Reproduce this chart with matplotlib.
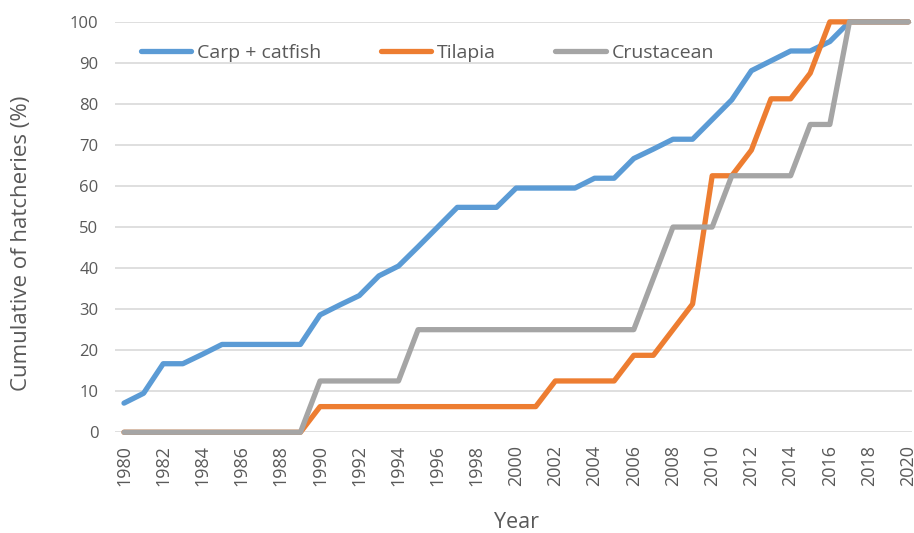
import matplotlib
matplotlib.use('Agg')
from matplotlib import pyplot as plt

plt.rcParams['font.family'] = ['Open Sans', 'DejaVu Sans']

years = list(range(1980, 2021))

# Carp + catfish (cumulative %)
carp = [7.1, 9.5, 16.7, 16.7, 19.0, 21.4, 21.4, 21.4, 21.4, 21.4,
        28.6, 31.0, 33.3, 38.1, 40.5, 45.2, 50.0, 54.8, 54.8, 54.8,
        59.5, 59.5, 59.5, 59.5, 61.9, 61.9, 66.7, 69.0, 71.4, 71.4,
        76.2, 81.0, 88.1, 90.5, 92.9, 92.9, 95.2, 100, 100, 100, 100]

# Tilapia
tilapia = [0, 0, 0, 0, 0, 0, 0, 0, 0, 0,
           6.25, 6.25, 6.25, 6.25, 6.25, 6.25, 6.25, 6.25, 6.25, 6.25,
           6.25, 6.25, 12.5, 12.5, 12.5, 12.5, 18.75, 18.75, 25.0, 31.25,
           62.5, 62.5, 68.75, 81.25, 81.25, 87.5, 100, 100, 100, 100, 100]

# Crustacean
crust = [0, 0, 0, 0, 0, 0, 0, 0, 0, 0,
         12.5, 12.5, 12.5, 12.5, 12.5, 25, 25, 25, 25, 25,
         25, 25, 25, 25, 25, 25, 25, 37.5, 50, 50,
         50, 62.5, 62.5, 62.5, 62.5, 75, 75, 100, 100, 100, 100]

fig = plt.figure(figsize=(9.14, 5.33), dpi=100)
ax = fig.add_axes([0.126, 0.189, 0.872, 0.770])

txt = '#595959'
ax.plot(years, carp, color='#5B9BD5', lw=3.8, label='Carp + catfish', clip_on=False, solid_capstyle='round')
ax.plot(years, tilapia, color='#ED7D31', lw=3.8, label='Tilapia', clip_on=False, solid_capstyle='round')
ax.plot(years, crust, color='#A5A5A5', lw=3.8, label='Crustacean', clip_on=False, solid_capstyle='round')

ax.set_xlim(1979.55, 2020.2)
ax.set_ylim(0, 100)
ax.set_yticks(range(0, 101, 10))
ax.set_xticks(years[::2])
ax.set_xticklabels([str(y) for y in years[::2]], rotation=90, fontsize=13, color=txt)
ax.tick_params(axis='y', labelsize=12, colors=txt, length=0, pad=12)
ax.tick_params(axis='x', length=0, pad=9)
ax.grid(axis='y', color='#D9D9D9', lw=1.2)
ax.set_axisbelow(True)
for s in ax.spines.values():
    s.set_visible(False)

ax.set_ylabel('Cumulative of hatcheries (%)', fontsize=16, color=txt)
ax.yaxis.set_label_coords(-0.104, 0.46)
ax.set_xlabel('Year', fontsize=15.5, color=txt)
ax.xaxis.set_label_coords(0.503, -0.195)

ax.legend(loc='upper left', bbox_to_anchor=(0.01, 0.988), ncol=3, frameon=False,
          fontsize=14, labelcolor=txt, handlelength=2.6, handletextpad=0.3,
          columnspacing=3.05)

fig.savefig('out.png', dpi=100)
